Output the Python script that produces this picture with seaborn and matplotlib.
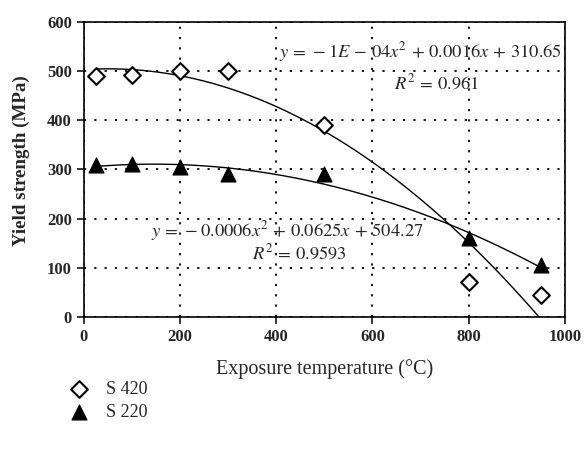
import numpy as np
import pandas as pd
import matplotlib
matplotlib.use("Agg")
import matplotlib.pyplot as plt
import seaborn as sns

# Data
temps = [25, 100, 200, 300, 500, 800, 950]
s420 = [490, 492, 500, 500, 390, 72, 45]
s220 = [310, 312, 305, 290, 290, 160, 105]
x_ticks = [0, 200, 400, 600, 800, 1000]
y_ticks = [0, 100, 200, 300, 400, 500, 600]
eq_s420 = r"$y\,=\,-1E\,-\,04x^2\,+\,0.0016x\,+\,310.65$"
r2_s420 = r"$R^2\,=\,0.961$"
eq_s220 = r"$y\,=\,-0.0006x^2\,+\,0.0625x\,+\,504.27$"
r2_s220 = r"$R^2\,=\,0.9593$"

sns.set_theme(style="white")
plt.rcParams["font.family"] = ["Liberation Serif", "DejaVu Serif"]
plt.rcParams["mathtext.fontset"] = "stix"

df = pd.DataFrame({"temp": temps * 2, "ys": s420 + s220,
                   "series": ["S 420"] * len(temps) + ["S 220"] * len(temps)})

fig = plt.figure(figsize=(5.86, 4.49), dpi=100)
ax = fig.add_axes([0.143, 0.294, 0.821, 0.657])

# Trend lines (quadratic fits of the data)
xs = np.linspace(25, 950, 200)
for name in ["S 420", "S 220"]:
    sub = df[df.series == name]
    coef = np.polyfit(sub.temp, sub.ys, 2)
    fit = pd.DataFrame({"temp": xs, "ys": np.polyval(coef, xs)})
    sns.lineplot(data=fit, x="temp", y="ys", ax=ax, color="black", lw=1.0)

d420 = df[df.series == "S 420"]
d220 = df[df.series == "S 220"]
sns.scatterplot(data=d420, x="temp", y="ys", ax=ax, marker="D", s=72,
                facecolor="white", edgecolor="black", linewidth=1.5,
                label="S 420", zorder=5)
sns.scatterplot(data=d220, x="temp", y="ys", ax=ax, marker="^", s=115,
                color="black", edgecolor="black", label="S 220", zorder=5)

ax.set_xlim(0, 1000)
ax.set_ylim(0, 600)
ax.set_xticks(x_ticks)
ax.set_yticks(y_ticks)
ax.grid(True, color="black", linestyle=(0, (1.2, 4.5)), linewidth=1.3)
for s in ax.spines.values():
    s.set_color("black")
    s.set_linewidth(1.2)
ax.tick_params(direction="out", length=5, width=1.1, color="black",
               labelsize=12, bottom=True, left=True)
for lab in ax.get_xticklabels() + ax.get_yticklabels():
    lab.set_fontweight("bold")

ax.set_xlabel("Exposure temperature (°C)", fontsize=14.5, labelpad=10)
ax.set_ylabel("Yield strength (MPa)", fontsize=13.7, fontweight="bold")
ax.yaxis.set_label_coords(-0.112, 0.53)

ax.text(700, 540, eq_s420, ha="center", va="center", fontsize=13.3)
ax.text(733, 476, r2_s420, ha="center", va="center", fontsize=13.3)
ax.text(423, 174, eq_s220, ha="center", va="center", fontsize=13.3)
ax.text(448, 129, r2_s220, ha="center", va="center", fontsize=13.3)

ax.legend(loc="upper left", bbox_to_anchor=(0.092, 0.167),
          bbox_transform=fig.transFigure, frameon=False, fontsize=13,
          handletextpad=0.5, labelspacing=0.3, borderaxespad=0)

fig.savefig("out.png", dpi=100)
